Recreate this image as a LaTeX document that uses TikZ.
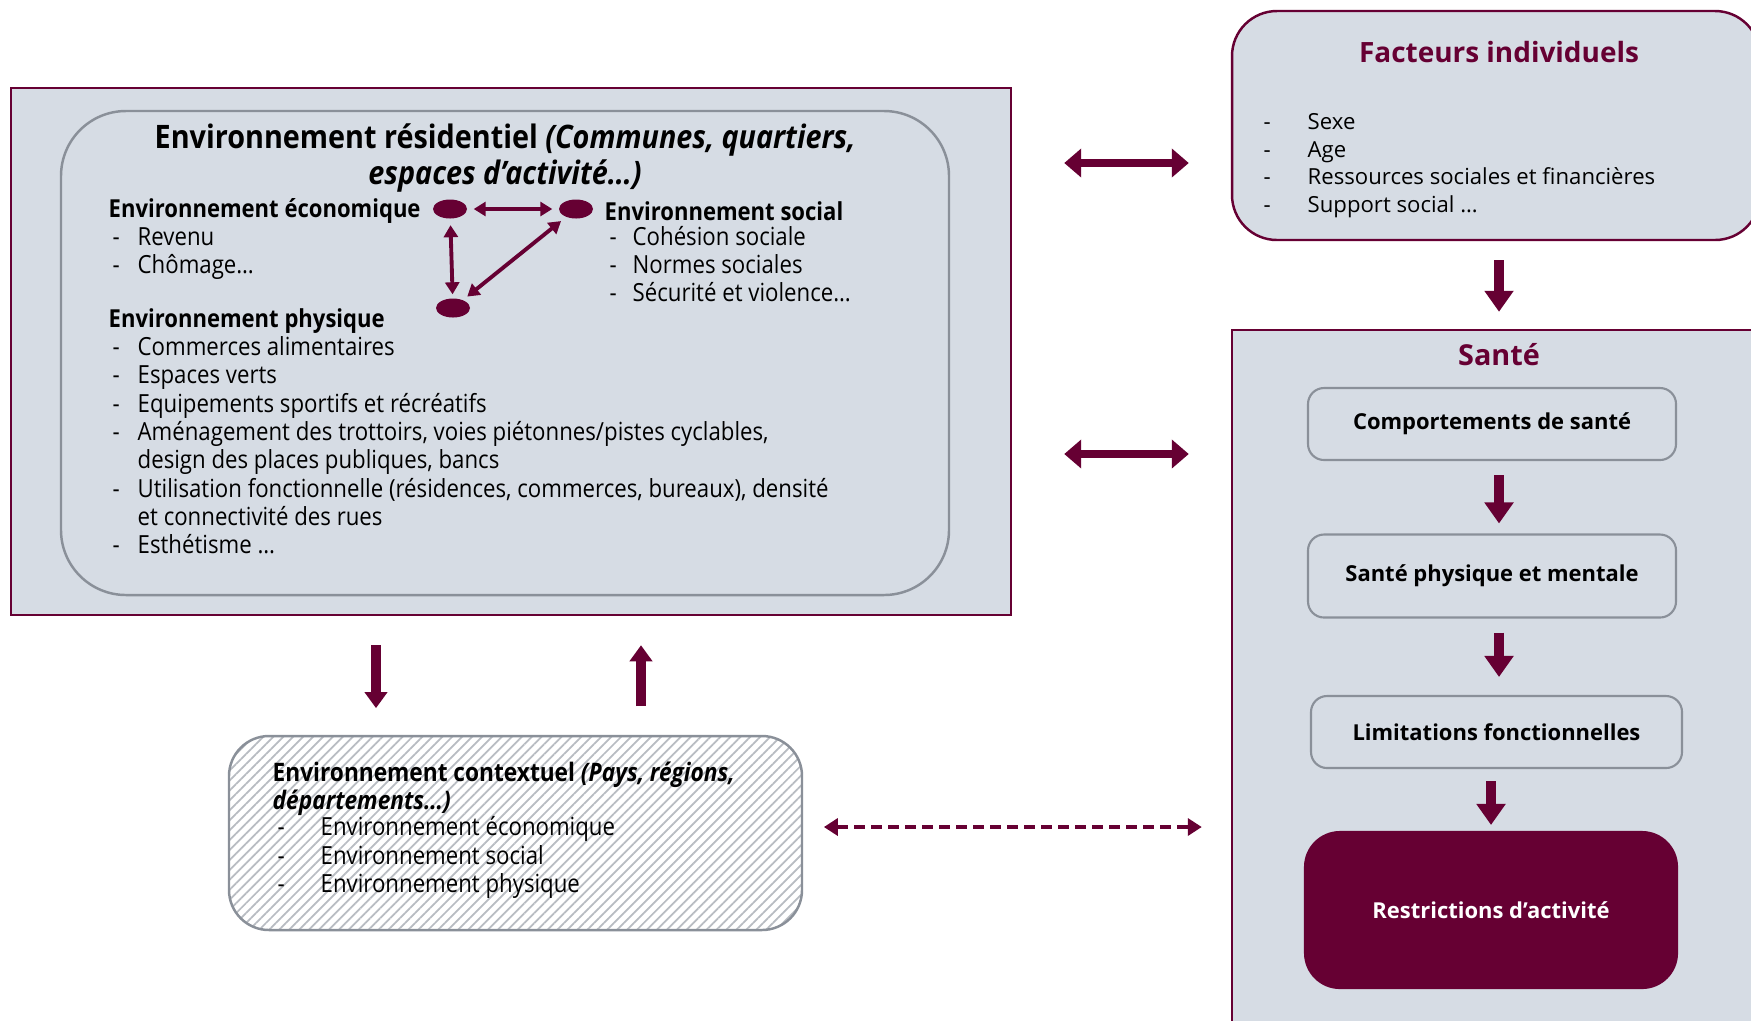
\documentclass[tikz,border=0pt]{standalone}
\usepackage{fontspec}
\setmainfont{Open Sans}
\newfontfamily\serre[FakeStretch=0.89]{Open Sans}
\usetikzlibrary{arrows.meta,fit,patterns.meta,shapes.geometric}

\definecolor{bordeaux}{HTML}{660033}
\definecolor{grisfond}{HTML}{D6DCE4}
\definecolor{grisbord}{HTML}{8A9099}
\definecolor{hachure}{HTML}{B8BCC2}

\newcommand{\tiret}[1]{\makebox[#1][l]{-}}

\tikzset{
  cadre/.style={draw=bordeaux,fill=grisfond,line width=0.7pt,inner sep=0pt},
  bulle/.style={draw=grisbord,fill=grisfond,line width=0.7pt,rounded corners=6.5mm,inner sep=0pt},
  etape/.style={draw=grisbord,fill=grisfond,line width=0.6pt,rounded corners=1.6mm,inner sep=0pt,
    font=\bfseries\fontsize{6.25}{8}\selectfont},
  pastille/.style={ellipse,fill=bordeaux,minimum width=3.4mm,minimum height=1.9mm,inner sep=0pt},
  liste/.style={anchor=west,inner sep=0pt},
  corps/.style={font=\serre\fontsize{7.1}{8.05}\selectfont},
  tete/.style={anchor=west,inner sep=0pt,font=\serre\bfseries\fontsize{7.05}{8}\selectfont},
  grosse/.style={bordeaux,line width=2.8pt,-{Triangle[length=2.1mm,width=2.8mm]}},
  moyenne/.style={bordeaux,line width=2.8pt,-{Triangle[length=1.6mm,width=2.2mm]}},
  double/.style={bordeaux,line width=2.5pt,{Triangle[length=1.7mm,width=2.8mm]}-{Triangle[length=1.7mm,width=2.8mm]}},
  fine/.style={bordeaux,line width=1.1pt,{Triangle[length=1.2mm,width=1.4mm]}-{Triangle[length=1.2mm,width=1.4mm]}},
  pointille/.style={bordeaux,line width=1.3pt,dash pattern=on 1.1mm off 0.6mm,
    {Triangle[length=1.4mm,width=1.7mm]}-{Triangle[length=1.4mm,width=1.7mm]}}
}

\begin{document}
\begin{tikzpicture}[x=0.1mm,y=-0.1mm]
    \path[use as bounding box,fill=white] (0,0) rectangle (1751,1020);

    % boites principales
    \node[cadre,fit={(11,88)(1011,615)}] (res) {};
    \node[bulle,fit={(61,111)(949,595)}] (quartier) {};
    \node[cadre,rounded corners=4.5mm,fit={(1232,11)(1760,240)}] (fact) {};
    \node[cadre,fit={(1232,330)(1775,1040)}] (sante) {};
    \node[draw=grisbord,line width=0.7pt,rounded corners=4mm,inner sep=0pt,
          preaction={fill=white},pattern={Lines[angle=45,distance=2pt,line width=0.5pt]},
          pattern color=hachure,fit={(229,736)(802,930)}] (ctx) {};

    % environnement residentiel
    \node[align=center,inner sep=0pt,font=\serre\bfseries\fontsize{9.2}{10.2}\selectfont]
        (tres) at (505,158) {Environnement résidentiel \textit{(Communes, quartiers,}\\\textit{espaces d’activité…)}};
    \node[tete] (teco) at (108,211) {Environnement économique};
    \node[liste,corps] (leco) at (112,253.5) {\begin{tabular}{@{}l@{}}
        \tiret{2.5mm}Revenu\\ \tiret{2.5mm}Chômage…\end{tabular}};
    \node[tete] (tsoc) at (604,211) {Environnement social};
    \node[liste,corps] (lsoc) at (609,268) {\begin{tabular}{@{}l@{}}
        \tiret{2.3mm}Cohésion sociale\\ \tiret{2.3mm}Normes sociales\\
        \tiret{2.3mm}Sécurité et violence…\end{tabular}};
    \node[tete] (tphy) at (108,321) {Environnement physique};
    \node[liste,corps] (lphy) at (112,449) {\begin{tabular}{@{}l@{}}
        \tiret{2.5mm}Commerces alimentaires\\
        \tiret{2.5mm}Espaces verts\\
        \tiret{2.5mm}Equipements sportifs et récréatifs\\
        \tiret{2.5mm}Aménagement des trottoirs, voies piétonnes/pistes cyclables,\\
        \hspace{2.5mm}design des places publiques, bancs\\
        \tiret{2.5mm}Utilisation fonctionnelle (résidences, commerces, bureaux), densité\\
        \hspace{2.5mm}et connectivité des rues\\
        \tiret{2.5mm}Esthétisme …\end{tabular}};

    \node[pastille] (eco) at (450,209) {};
    \node[pastille] (soc) at (576,209) {};
    \node[pastille] (phy) at (453,308) {};
    \draw[fine,shorten <=0.6mm,shorten >=0.6mm] (eco) -- (soc);
    \draw[fine,shorten <=0.6mm,shorten >=0.35mm] (eco) -- (phy);
    \draw[fine,shorten <=0.6mm,shorten >=0.5mm] (soc) -- (phy);

    % facteurs individuels
    \node[inner sep=0pt,text=bordeaux,font=\bfseries\fontsize{7.95}{10}\selectfont]
        (tfact) at (1499,52) {Facteurs individuels};
    \node[liste,font=\fontsize{6.3}{7.9}\selectfont] (lfact) at (1263,165.5) {\begin{tabular}{@{}l@{}}
        \tiret{4.4mm}Sexe\\ \tiret{4.4mm}Age\\
        \tiret{4.4mm}Ressources sociales et financières\\
        \tiret{4.4mm}Support social …\end{tabular}};

    % sante
    \node[inner sep=0pt,text=bordeaux,font=\bfseries\fontsize{8.2}{9}\selectfont]
        (tsante) at (1499,355) {Santé};
    \node[etape,minimum width=36.8mm,minimum height=7.2mm] (comp) at (1492,424) {Comportements de santé};
    \node[etape,minimum width=36.8mm,minimum height=8.3mm] (phys) at (1492,576) {Santé physique et mentale};
    \node[etape,minimum width=37.1mm,minimum height=7.2mm] (lim) at (1496.5,732) {Limitations fonctionnelles};
    \node[etape,draw=bordeaux,fill=bordeaux,text=white,rounded corners=3.5mm,
          minimum width=37.2mm,minimum height=15.6mm] (restr) at (1491,910) {Restrictions d’activité};

    % environnement contextuel
    \node[liste,align=left,font=\serre\bfseries\fontsize{7.25}{7.9}\selectfont]
        (tctx) at (272,789) {Environnement contextuel \textit{(Pays, régions,}\\\textit{départements…)}};
    \node[liste,corps] (lctx) at (277,858.5) {\begin{tabular}{@{}l@{}}
        \tiret{4.3mm}Environnement économique\\
        \tiret{4.3mm}Environnement social\\
        \tiret{4.3mm}Environnement physique\end{tabular}};

    % fleches
    \coordinate (axeA) at (376,0);
    \coordinate (axeB) at (641,0);
    \coordinate (axeC) at (0,454);
    \coordinate (axeD) at (0,827);
    \coordinate (axeE) at (0,163);
    \draw[grosse,shorten <=1.9mm,shorten >=1.7mm] (fact.south -| tsante) -- (sante.north -| tsante);
    \draw[grosse,shorten <=1.4mm,shorten >=1.0mm] (comp.south -| tsante) -- (phys.north -| tsante);
    \draw[grosse,shorten <=1.4mm,shorten >=1.8mm] (phys.south -| tsante) -- (lim.north -| tsante);
    \draw[grosse,shorten <=1.2mm,shorten >=0.6mm] (lim.south -| restr) -- (restr.north);
    \draw[double,shorten <=5.2mm,shorten >=4.2mm] (res.east |- axeE) -- (fact.west |- axeE);
    \draw[double,shorten <=5.2mm,shorten >=4.2mm] (res.east |- axeC) -- (sante.west |- axeC);
    \draw[pointille,shorten <=2.1mm,shorten >=2.9mm] (ctx.east |- axeD) -- (sante.west |- axeD);
    \draw[moyenne,shorten <=2.9mm,shorten >=2.7mm] (res.south -| axeA) -- (ctx.north -| axeA);
    \draw[moyenne,shorten <=2.9mm,shorten >=2.9mm] (ctx.north -| axeB) -- (res.south -| axeB);
\end{tikzpicture}
\end{document}
